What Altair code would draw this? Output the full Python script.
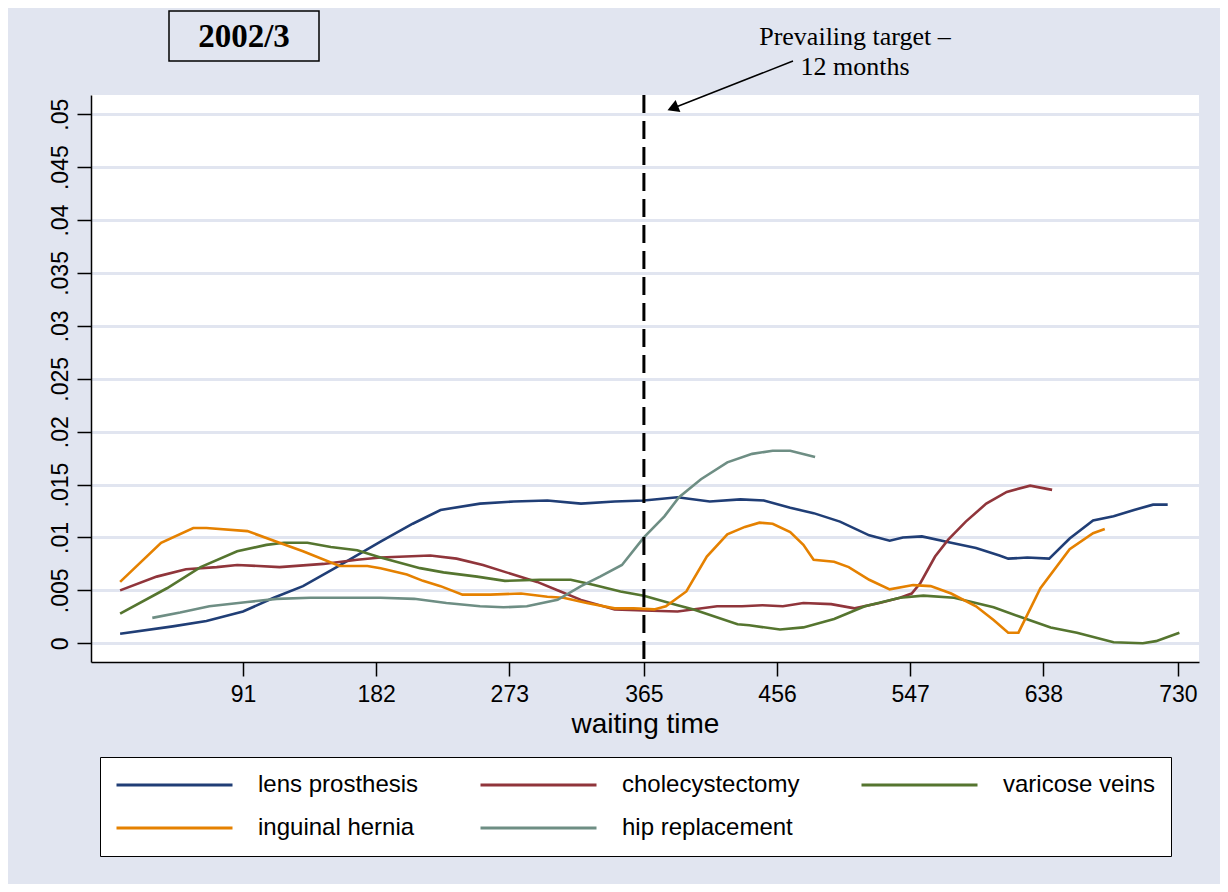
import altair as alt
import pandas as pd

series_names = ["lens prosthesis", "cholecystectomy", "varicose veins", "inguinal hernia", "hip replacement"]
series_colors = ["#203E76", "#90353B", "#55752F", "#E58100", "#6E8E84"]

lens_days = [7, 43, 66, 91, 112, 132, 155, 185, 207, 226, 253, 276, 299, 322, 345, 365, 388, 410, 431, 447,
             465, 481, 499, 519, 533, 542, 555, 575, 592, 608, 614, 627, 642, 656, 672, 686, 700, 713, 723]
lens_vals = [0.0009, 0.0016, 0.0021, 0.0030, 0.0043, 0.0054, 0.0072, 0.0096, 0.0113, 0.0126, 0.0132, 0.0134,
             0.0135, 0.0132, 0.0134, 0.0135, 0.0138, 0.0134, 0.0136, 0.0135, 0.0128, 0.0123, 0.0115, 0.0102,
             0.0097, 0.0100, 0.0101, 0.0095, 0.0090, 0.0083, 0.0080, 0.0081, 0.0080, 0.0099, 0.0116, 0.0120,
             0.0126, 0.0131, 0.0131]

chole_days = [7, 32, 52, 73, 87, 116, 146, 169, 185, 219, 237, 255, 271, 292, 308, 322, 345, 365, 388, 415,
              432, 446, 460, 474, 493, 509, 526, 540, 548, 554, 564, 573, 585, 599, 613, 629, 644]
chole_vals = [0.0050, 0.0063, 0.0070, 0.0072, 0.0074, 0.0072, 0.0075, 0.0079, 0.0081, 0.0083, 0.0080, 0.0074,
              0.0067, 0.0058, 0.0049, 0.0041, 0.0032, 0.0031, 0.0030, 0.0035, 0.0035, 0.0036, 0.0035, 0.0038,
              0.0037, 0.0033, 0.0038, 0.0043, 0.0047, 0.0057, 0.0082, 0.0098, 0.0115, 0.0132, 0.0143, 0.0149,
              0.0145]

varic_days = [7, 39, 62, 87, 107, 119, 135, 151, 169, 185, 212, 228, 251, 270, 294, 315, 331, 349, 365, 388,
              399, 429, 437, 458, 474, 495, 516, 540, 556, 577, 604, 622, 643, 661, 686, 706, 715, 731]
varic_vals = [0.0028, 0.0052, 0.0072, 0.0087, 0.0093, 0.0095, 0.0095, 0.0091, 0.0088, 0.0081, 0.0071, 0.0067,
              0.0063, 0.0059, 0.0060, 0.0060, 0.0055, 0.0049, 0.0045, 0.0036, 0.0032, 0.0018, 0.0017, 0.0013,
              0.0015, 0.0023, 0.0035, 0.0043, 0.0045, 0.0043, 0.0034, 0.0025, 0.0015, 0.0010, 0.0001, 0.0000,
              0.0002, 0.0010]

hernia_days = [7, 35, 57, 66, 94, 114, 132, 157, 176, 185, 203, 214, 226, 241, 260, 281, 299, 310, 326, 345,
               358, 372, 380, 394, 408, 422, 434, 444, 453, 465, 474, 481, 495, 505, 519, 533, 549, 561, 575,
               592, 604, 614, 621, 636, 656, 672, 680]
hernia_vals = [0.0058, 0.0095, 0.0109, 0.0109, 0.0106, 0.0096, 0.0087, 0.0073, 0.0073, 0.0071, 0.0065, 0.0059,
               0.0054, 0.0046, 0.0046, 0.0047, 0.0044, 0.0043, 0.0038, 0.0033, 0.0033, 0.0032, 0.0035, 0.0049,
               0.0082, 0.0103, 0.0110, 0.0114, 0.0113, 0.0105, 0.0093, 0.0079, 0.0077, 0.0072, 0.0060, 0.0051,
               0.0055, 0.0054, 0.0047, 0.0035, 0.0022, 0.0010, 0.0010, 0.0052, 0.0089, 0.0104, 0.0108]

hip_days = [29, 48, 68, 94, 114, 137, 160, 185, 208, 230, 253, 269, 285, 306, 322, 335, 350, 365, 379, 389,
            404, 422, 439, 453, 465, 482]
hip_vals = [0.0024, 0.0029, 0.0035, 0.0039, 0.0042, 0.0043, 0.0043, 0.0043, 0.0042, 0.0038, 0.0035, 0.0034,
            0.0035, 0.0041, 0.0054, 0.0063, 0.0074, 0.0100, 0.0120, 0.0138, 0.0155, 0.0171, 0.0179, 0.0182,
            0.0182, 0.0176]

x_ticks = [91, 182, 273, 365, 456, 547, 638, 730]
y_ticks = [0, 0.005, 0.01, 0.015, 0.02, 0.025, 0.03, 0.035, 0.04, 0.045, 0.05]
target_day = [365]
panel_title = "2002/3"
note_lines = ["Prevailing target \u2013", "12 months"]

all_days = [lens_days, chole_days, varic_days, hernia_days, hip_days]
all_vals = [lens_vals, chole_vals, varic_vals, hernia_vals, hip_vals]
rows = []
for name, ds, vs in zip(series_names, all_days, all_vals):
    for d, v in zip(ds, vs):
        rows.append({"day": d, "value": v, "series": name})
df = pd.DataFrame(rows)

BG = "#E1E5F0"
SANS = "Liberation Sans"
SERIF = "Liberation Serif"

xscale = alt.Scale(domain=[-12.9, 744.4], nice=False, zero=False)
yscale = alt.Scale(domain=[-0.00177, 0.05182], nice=False, zero=False)

lines = alt.Chart(df).mark_line(strokeWidth=2.6).encode(
    x=alt.X("day:Q", scale=xscale,
            axis=alt.Axis(values=x_ticks, format="d", title="waiting time", grid=False,
                          labelFont=SANS, labelFontSize=23, labelColor="black", labelPadding=7,
                          tickSize=14, tickColor="black", tickWidth=1.5,
                          domainColor="black", domainWidth=1.5,
                          titleFont=SANS, titleFontSize=28, titleFontWeight="normal",
                          titleColor="black", titlePadding=4)),
    y=alt.Y("value:Q", scale=yscale,
            axis=alt.Axis(values=y_ticks, title=None, grid=True, gridColor=BG, gridWidth=3,
                          labelExpr="datum.value == 0 ? '0' : replace(format(datum.value, '.3~f'), '0.', '.')",
                          labelAngle=270, labelAlign="center", labelBaseline="alphabetic",
                          labelFont=SANS, labelFontSize=23, labelColor="black", labelPadding=10,
                          tickSize=14, tickColor="black", tickWidth=1.5,
                          domainColor="black", domainWidth=1.5)),
    color=alt.Color("series:N", scale=alt.Scale(domain=series_names, range=series_colors),
                    legend=alt.Legend(title=None, orient="none", legendX=9, legendY=662,
                                      direction="horizontal", columns=3,
                                      symbolType="stroke", symbolSize=13456, symbolStrokeWidth=3,
                                      clipHeight=26, labelFont=SANS, labelFontSize=24,
                                      labelColor="black", labelLimit=400, labelOffset=24,
                                      columnPadding=60, rowPadding=17, padding=15,
                                      strokeColor="black", fillColor="white")),
)

one = pd.DataFrame({"a": [0]})

target = alt.Chart(pd.DataFrame({"x": target_day})).mark_rule(
    color="black", strokeWidth=3, strokeDash=[18, 8]).encode(x=alt.X("x:Q", scale=xscale))

box = alt.Chart(one).mark_rect(fill=BG, stroke="black", strokeWidth=1.5).encode(
    x=alt.value(78), x2=alt.value(228), y=alt.value(-84), y2=alt.value(-34))
box_text = alt.Chart(pd.DataFrame({"t": [panel_title]})).mark_text(
    font=SERIF, fontSize=33, fontWeight="bold", color="black", align="center", baseline="middle").encode(
    x=alt.value(153), y=alt.value(-58), text="t:N")

note = alt.Chart(pd.DataFrame({"t": note_lines, "yy": [-50, -20]})).mark_text(
    font=SERIF, fontSize=26, color="black", align="center", baseline="alphabetic").encode(
    x=alt.value(764), y=alt.Y("yy:Q", scale=None), text="t:N")

arrow = alt.Chart(one).mark_rule(color="black", strokeWidth=1.5).encode(
    x=alt.value(702), y=alt.value(-34), x2=alt.value(585), y2=alt.value(12))
head = alt.Chart(one).mark_point(shape="triangle", filled=True, color="black", size=170,
                                 angle=248.6, opacity=1).encode(x=alt.value(583.5), y=alt.value(12.4))

chart = alt.layer(lines, target, box, box_text, note, arrow, head).properties(
    width=1108, height=567,
    autosize=alt.AutoSizeParams(type="none"),
    padding={"left": 83, "top": 87, "right": 21, "bottom": 222},
).configure(background=BG).configure_view(fill="white", stroke=None)

chart.save("out.html", embed_options={"renderer": "svg", "actions": False})
